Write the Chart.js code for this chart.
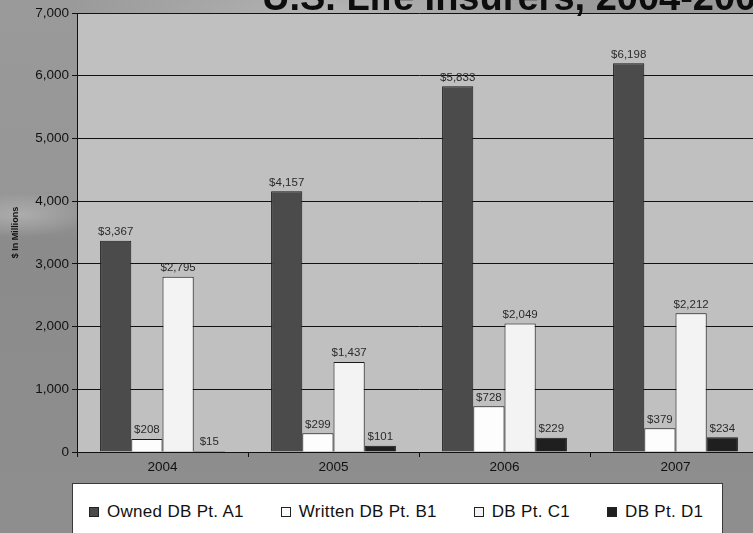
<!DOCTYPE html>
<html>
<head>
<meta charset="utf-8">
<script src="https://cdn.jsdelivr.net/npm/chart.js@4/dist/chart.umd.min.js"></script>
<style>
  html, body { margin: 0; padding: 0; width: 753px; height: 533px; overflow: hidden; }
  body {
    position: relative;
    font-family: Arial, "Liberation Sans", sans-serif;
    background:
      radial-gradient(ellipse 260px 40px at 330px 8px, rgba(200,200,200,0.55), rgba(200,200,200,0) 100%),
      radial-gradient(ellipse 70px 22px at 20px 215px, rgba(190,190,190,0.6), rgba(190,190,190,0) 100%),
      linear-gradient(180deg, #9a9a9a 0%, #969696 38%, #8b8b8b 45%, #8e8e8e 100%);
  }
  #wrap { position: absolute; left: 0; top: 0; width: 780px; height: 480px; }
  #legend {
    position: absolute; left: 72px; top: 483px; width: 651px; height: 58px;
    box-sizing: border-box; background: #fff; border: 1px solid #3a3a3a;
    display: flex; align-items: center; padding-left: 16px;
  }
  #legend .item { display: flex; align-items: center; margin-right: 37px; font-size: 17px; letter-spacing: 0.3px; color: #111; white-space: nowrap; }
  #legend .swatch { width: 8px; height: 8px; border: 1px solid #222; margin-right: 8px; }
</style>
</head>
<body>
<div id="wrap"><canvas id="chart" width="780" height="480"></canvas></div>
<div id="legend"></div>
<script>
// Years on the category axis
const years = ['2004', '2005', '2006', '2007'];

// Values in $ millions, one array per series
const ownedA1   = [3367, 4157, 5833, 6198];
const writtenB1 = [208, 299, 728, 379];
const dbC1      = [2795, 1437, 2049, 2212];
const dbD1      = [15, 101, 229, 234];

const seriesNames = ['Owned DB Pt. A1', 'Written DB Pt. B1', 'DB Pt. C1', 'DB Pt. D1'];
const seriesFills = ['#4b4b4b', '#fdfdfd', '#f3f3f3', '#1f1f1f'];

// Value axis ticks
const yTicks = [0, 1000, 2000, 3000, 4000, 5000, 6000, 7000];

const titleText = 'U.S. Life Insurers, 2004-2007';
const yAxisTitle = '$ In Millions';

const fmt = v => v.toLocaleString('en-US');
const FONT = 'Arial, "Liberation Sans", sans-serif';

// Light grey plot area fill
const plotFill = {
  id: 'plotFill',
  beforeDraw(chart) {
    const { ctx, chartArea: a } = chart;
    ctx.save();
    ctx.fillStyle = '#c0c0c0';
    ctx.fillRect(a.left, a.top, a.right - a.left, a.bottom - a.top);
    ctx.restore();
  }
};

// Large heading running off the top of the slide
const headline = {
  id: 'headline',
  afterDraw(chart) {
    const ctx = chart.ctx;
    ctx.save();
    ctx.font = 'bold 38px ' + FONT;
    ctx.fillStyle = '#0d0d0d';
    ctx.textAlign = 'left';
    ctx.textBaseline = 'alphabetic';
    ctx.fillText(titleText, 262, 10);
    ctx.restore();
  }
};

// Dollar value above each bar
const valueLabels = {
  id: 'valueLabels',
  afterDatasetsDraw(chart) {
    const ctx = chart.ctx;
    ctx.save();
    ctx.font = '11.5px ' + FONT;
    ctx.fillStyle = '#2a2a2a';
    ctx.textAlign = 'center';
    ctx.textBaseline = 'bottom';
    chart.data.datasets.forEach((ds, i) => {
      chart.getDatasetMeta(i).data.forEach((bar, j) => {
        ctx.fillText('$' + fmt(ds.data[j]), bar.x, bar.y - 3);
      });
    });
    ctx.restore();
  }
};

const seriesData = [ownedA1, writtenB1, dbC1, dbD1];

new Chart(document.getElementById('chart'), {
  type: 'bar',
  data: {
    labels: years,
    datasets: seriesData.map((d, i) => ({
      label: seriesNames[i],
      data: d,
      backgroundColor: seriesFills[i],
      borderColor: '#1a1a1a',
      borderWidth: 1,
      categoryPercentage: 0.73,
      barPercentage: 1.0
    }))
  },
  options: {
    responsive: false,
    animation: false,
    layout: { padding: { top: 13, right: 19, left: 0, bottom: 0 } },
    plugins: { legend: { display: false }, tooltip: { enabled: false }, title: { display: false } },
    scales: {
      x: {
        offset: true,
        grid: { offset: true, drawOnChartArea: false, drawTicks: true, tickLength: 5, color: '#111' },
        border: { display: true, color: '#111', width: 1 },
        ticks: { color: '#111', font: { family: FONT, size: 13.5 }, padding: 2 },
        afterFit(scale) { scale.height = 28; }
      },
      y: {
        min: 0,
        max: yTicks[yTicks.length - 1],
        afterBuildTicks(scale) { scale.ticks = yTicks.map(v => ({ value: v })); },
        grid: { color: '#111', lineWidth: 1, drawTicks: true, tickLength: 5 },
        border: { display: true, color: '#111', width: 1 },
        ticks: {
          color: '#111',
          padding: 3,
          font: { family: FONT, size: 13.5 },
          callback: v => fmt(v)
        },
        title: {
          display: true,
          text: yAxisTitle,
          color: '#111',
          font: { family: FONT, size: 9, weight: 'bold' },
          padding: { top: 10, bottom: 0 }
        },
        afterFit(scale) { scale.width = 77; }
      }
    }
  },
  plugins: [plotFill, valueLabels, headline]
});

// Legend box below the chart
const legend = document.getElementById('legend');
seriesNames.forEach((name, i) => {
  const item = document.createElement('div');
  item.className = 'item';
  const sw = document.createElement('span');
  sw.className = 'swatch';
  sw.style.background = seriesFills[i];
  const tx = document.createElement('span');
  tx.textContent = name;
  item.appendChild(sw);
  item.appendChild(tx);
  legend.appendChild(item);
});
</script>
</body>
</html>
